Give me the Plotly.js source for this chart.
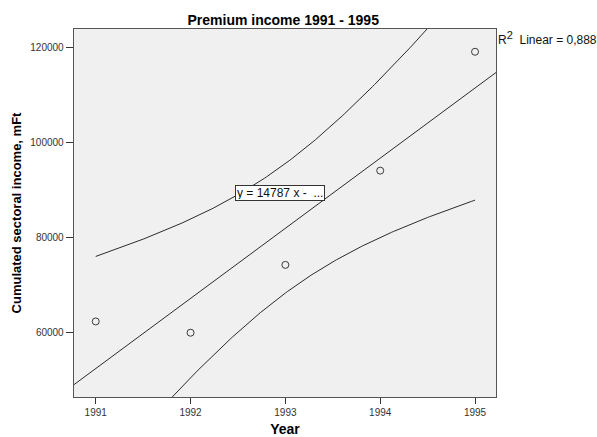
<!DOCTYPE html>
<html>
<head>
<meta charset="utf-8">
<script src="https://cdn.plot.ly/plotly-3.0.1.min.js"></script>
<style>
  html, body { margin: 0; padding: 0; background: #fff; }
  #chart { width: 597px; height: 437px; }
</style>
</head>
<body>
<div id="chart"></div>
<script>
// Cumulated sectoral premium income per year (mFt)
const years = [1991, 1992, 1993, 1994, 1995];
const income = [62230, 59850, 74150, 94020, 119080];
const yTicks = [60000, 80000, 100000, 120000];
const xTicks = [1991, 1992, 1993, 1994, 1995];

// Two-sided 95% t quantile for n - 2 = 3 degrees of freedom
const tCrit = 3.182446;

// Ordinary least squares fit
const n = years.length;
const mx = years.reduce((a, b) => a + b, 0) / n;
const my = income.reduce((a, b) => a + b, 0) / n;
let sxx = 0, sxy = 0, sst = 0;
for (let i = 0; i < n; i++) {
  sxx += (years[i] - mx) ** 2;
  sxy += (years[i] - mx) * (income[i] - my);
  sst += (income[i] - my) ** 2;
}
const slope = sxy / sxx;
const intercept = my - slope * mx;
let sse = 0;
for (let i = 0; i < n; i++) sse += (income[i] - (intercept + slope * years[i])) ** 2;
const r2 = 1 - sse / sst;
const s = Math.sqrt(sse / (n - 2));

const xMin = 1990.771, xMax = 1995.221;

// Fit line across the whole axis
const fitX = [xMin, xMax];
const fitY = fitX.map(x => intercept + slope * x);

// 95% confidence band for the mean, drawn over the data span
const bandX = [], upper = [], lower = [];
for (let k = 0; k <= 200; k++) {
  const x = years[0] + (years[n - 1] - years[0]) * k / 200;
  const yhat = intercept + slope * x;
  const half = tCrit * s * Math.sqrt(1 / n + (x - mx) ** 2 / sxx);
  bandX.push(x); upper.push(yhat + half); lower.push(yhat - half);
}

const lineStyle = { color: '#2b2b2b', width: 1 };
const FONT = 'Liberation Sans, Arial, sans-serif';

const traces = [
  { x: fitX, y: fitY, mode: 'lines', line: lineStyle, hoverinfo: 'skip' },
  { x: bandX, y: upper, mode: 'lines', line: lineStyle, hoverinfo: 'skip' },
  { x: bandX, y: lower, mode: 'lines', line: lineStyle, hoverinfo: 'skip' },
  {
    x: years, y: income, mode: 'markers',
    marker: { symbol: 'circle-open', size: 7, color: '#3a3a3a', line: { width: 1, color: '#3a3a3a' } }
  }
];

const slopeText = Math.round(slope).toString();
const r2Text = r2.toFixed(3).replace('.', ',');

const layout = {
  width: 597, height: 437,
  margin: { l: 74, r: 101, t: 29, b: 40 },
  paper_bgcolor: '#ffffff',
  plot_bgcolor: '#f0f0f0',
  showlegend: false,
  font: { family: FONT, color: '#222' },
  title: {
    text: '<b>Premium income 1991 - 1995</b>',
    font: { family: FONT, size: 14, color: '#000' },
    x: 296 / 597, xanchor: 'center', xref: 'paper',
    y: 1 - 20 / 437, yanchor: 'middle'
  },
  xaxis: {
    range: [xMin, xMax],
    tickvals: xTicks, ticktext: xTicks.map(String),
    ticks: 'outside', ticklen: 6, tickwidth: 1, tickcolor: '#333',
    tickfont: { family: FONT, size: 10, color: '#333' },
    showgrid: false, zeroline: false,
    showline: true, linecolor: '#555', linewidth: 1.3, mirror: true,
    title: { text: '<b>Year</b>', font: { family: FONT, size: 14, color: '#000' }, standoff: 8 }
  },
  yaxis: {
    range: [46300, 123880],
    tickvals: yTicks, ticktext: yTicks.map(String),
    ticks: 'outside', ticklen: 7, tickwidth: 1, tickcolor: '#333',
    tickfont: { family: FONT, size: 10, color: '#333' },
    showgrid: false, zeroline: false,
    showline: true, linecolor: '#555', linewidth: 1.3, mirror: true,
    title: { text: '<b>Cumulated sectoral income, mFt</b>', font: { family: FONT, size: 13, color: '#000' }, standoff: 5 }
  },
  annotations: [
    {
      xref: 'x', yref: 'y', x: 1992.948, y: 89260,
      text: 'y = ' + slopeText + ' x -  ...',
      showarrow: false, xanchor: 'center', yanchor: 'middle',
      width: 86, height: 12, align: 'left',
      bgcolor: '#ffffff', bordercolor: '#333', borderwidth: 1, borderpad: 1,
      font: { family: FONT, size: 12, color: '#111' }
    },
    {
      xref: 'paper', yref: 'paper', x: 1, xshift: 0, y: 1 - 9 / 368,
      text: 'R<sup><span style="font-size:11px">2</span></sup>  Linear = ' + r2Text,
      showarrow: false, xanchor: 'left', yanchor: 'middle',
      font: { family: FONT, size: 12, color: '#111' }
    }
  ]
};

Plotly.newPlot('chart', traces, layout, { displayModeBar: false, staticPlot: true });
</script>
</body>
</html>
